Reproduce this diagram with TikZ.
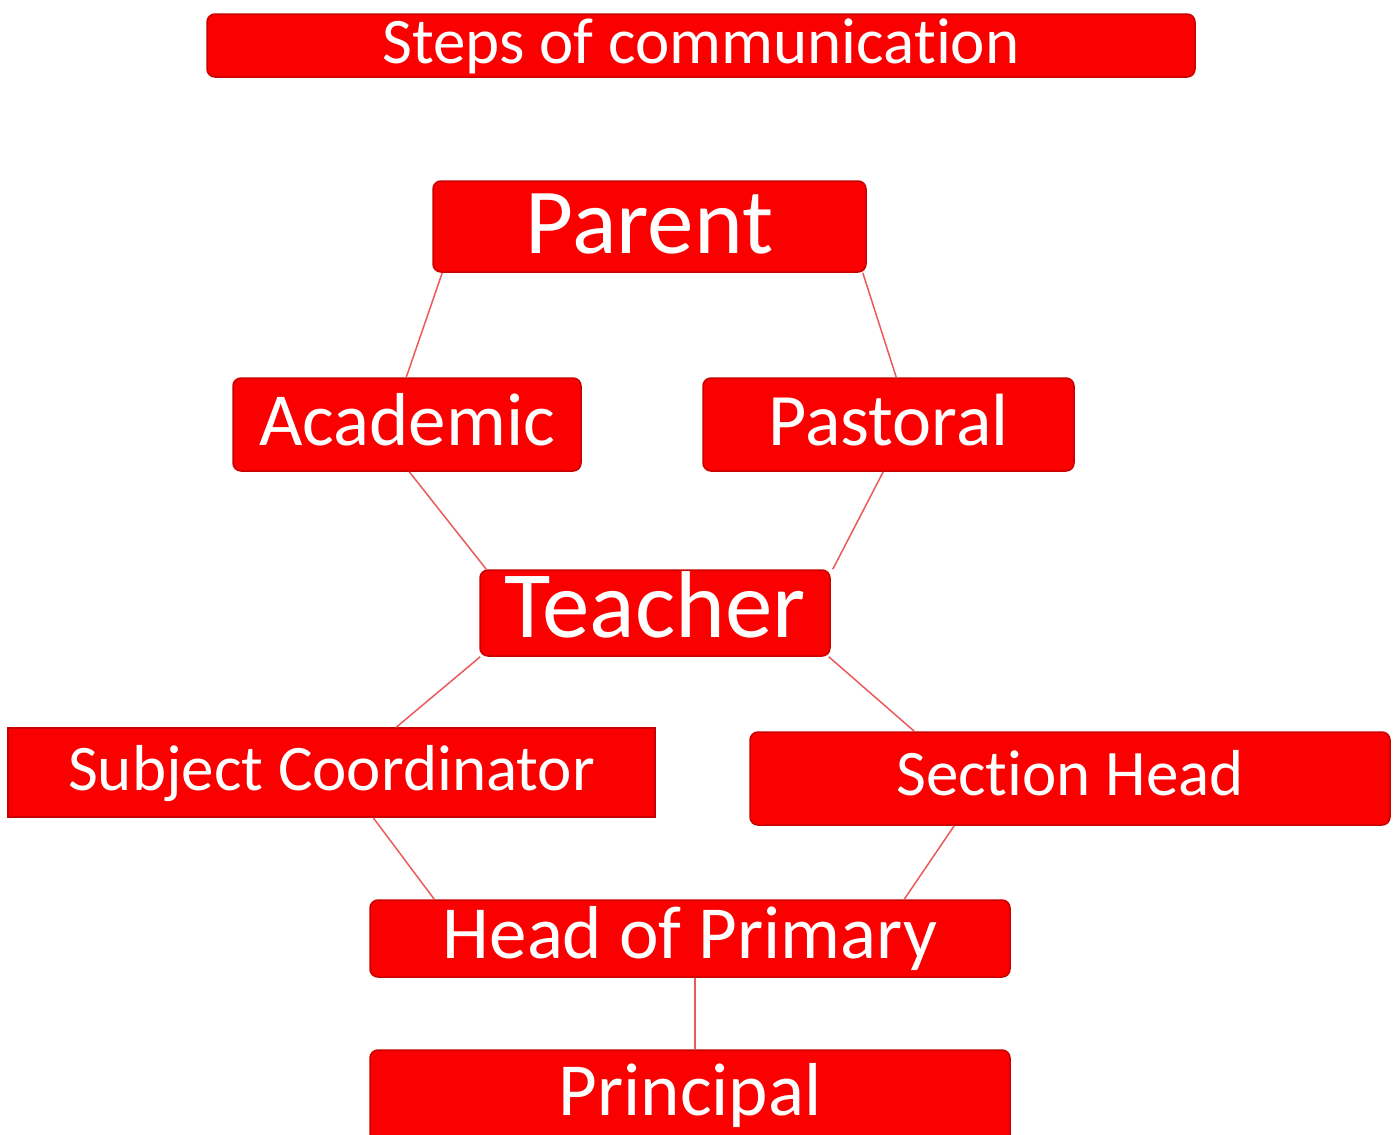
\documentclass[tikz,border=0pt]{standalone}
\usepackage{fontspec}
\setmainfont{Carlito}[RawFeature=-liga]
\definecolor{boxred}{RGB}{250,0,0}
\definecolor{edgered}{RGB}{200,0,0}
\definecolor{linkred}{RGB}{235,90,90}
\begin{document}
\begin{tikzpicture}[x=1pt,y=-1pt,
  box/.style={fill=boxred, draw=edgered, line width=1.5pt, rounded corners=8pt,
    text=white, inner sep=0pt, text depth=0pt, align=center},
  sharpbox/.style={box, rounded corners=0pt},
  link/.style={draw=linkred, line width=1.5pt}]
\useasboundingbox (0,0) rectangle (1393,1135);
\fill[white] (0,0) rectangle (1393,1135);

\node[box, minimum width=988pt, minimum height=63pt, text height=35pt, font=\fontsize{65}{70}\selectfont] (title) at (701,45.5) {Steps of communication};
\node[box, minimum width=433pt, minimum height=91pt, text height=53pt, font=\fontsize{93}{96}\selectfont] (parent) at (649.5,226.5) {Parent};
\node[box, minimum width=348pt, minimum height=93pt, text height=41pt, font=\fontsize{75}{78}\selectfont] (academic) at (407,424.5) {Academic};
\node[box, minimum width=371pt, minimum height=93pt, text height=41pt, font=\fontsize{74}{78}\selectfont] (pastoral) at (888.5,424.5) {Pastoral};
\node[box, minimum width=350pt, minimum height=86pt, text height=48pt, font=\fontsize{95}{99}\selectfont] (teacher) at (655,613) {Teacher};
\node[sharpbox, minimum width=647pt, minimum height=89pt, text height=35pt, font=\fontsize{65}{70}\selectfont] (subject) at (331.5,772.5) {Subject Coordinator};
\node[box, minimum width=640pt, minimum height=93pt, text height=33pt, font=\fontsize{65}{70}\selectfont] (section) at (1070,778.5) {Section Head};
\node[box, minimum width=640pt, minimum height=77pt, text height=39pt, font=\fontsize{75}{79}\selectfont] (hop) at (690,938.5) {Head of Primary};
\node[box, minimum width=640pt, minimum height=95pt, text height=35pt, font=\fontsize{75}{79}\selectfont] (principal) at (690,1097.5) {Principal};

\draw[link] ([xshift=10pt]parent.south west) -- ([xshift=174pt]academic.north west);
\draw[link] ([xshift=-4pt]parent.south east) -- ([xshift=194pt]pastoral.north west);
\draw[link] ([xshift=177pt]academic.south west) -- ([xshift=7pt]teacher.north west);
\draw[link] ([xshift=181pt]pastoral.south west) -- ([xshift=2pt]teacher.north east);
\draw[link] ([xshift=1pt]teacher.south west) -- ([xshift=389pt]subject.north west);
\draw[link] ([xshift=-2pt]teacher.south east) -- ([xshift=165pt]section.north west);
\draw[link] ([xshift=366pt]subject.south west) -- ([xshift=65pt]hop.north west);
\draw[link] ([xshift=205pt]section.south west) -- ([xshift=535pt]hop.north west);
\draw[link] ([xshift=5pt]hop.south) -- ([xshift=5pt]principal.north);
\end{tikzpicture}
\end{document}
